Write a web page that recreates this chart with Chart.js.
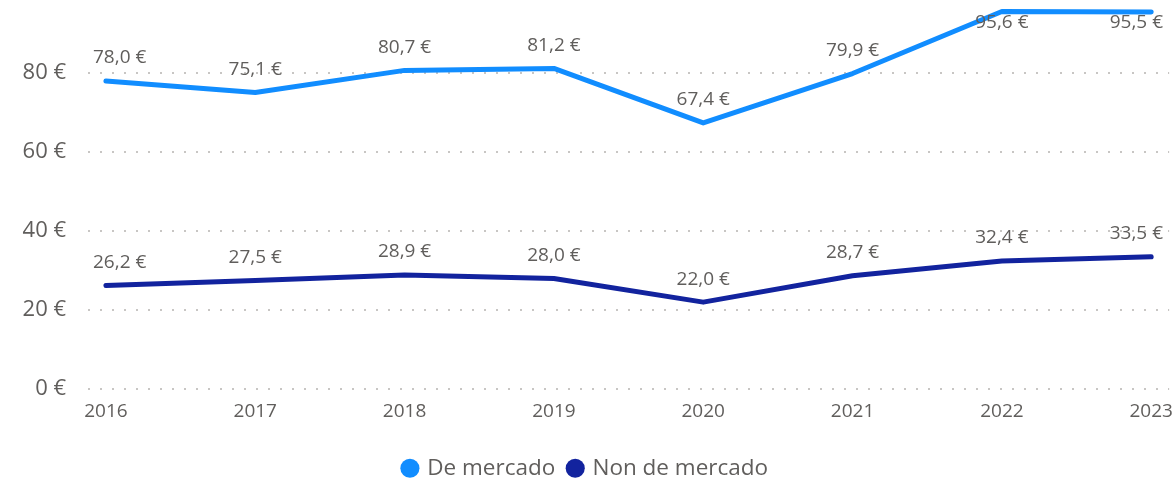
<!DOCTYPE html>
<html>
<head>
<meta charset="utf-8">
<script src="https://cdn.jsdelivr.net/npm/chart.js@4"></script>
<style>
  html, body { margin: 0; padding: 0; background: #fff; }
  #wrap { width: 1176px; height: 480px; }
</style>
</head>
<body>
<div id="wrap"><canvas id="grafico"></canvas></div>
<script>
const anos = [2016, 2017, 2018, 2019, 2020, 2021, 2022, 2023];
const deMercado = [78.0, 75.1, 80.7, 81.2, 67.4, 79.9, 95.6, 95.5];
const nonDeMercado = [26.2, 27.5, 28.9, 28.0, 22.0, 28.7, 32.4, 33.5];
const ticksY = [0, 20, 40, 60, 80];

const corTexto = "#605E5C";
const fonte = "'Open Sans', 'Noto Sans', sans-serif";

const euro = (v, dec) => v.toFixed(dec).replace(".", ",") + " €";

const pontos = (valores) => anos.map((a, i) => ({ x: a, y: valores[i] }));

// etiquetas de datos enriba de cada punto
const etiquetas = {
  id: "etiquetas",
  afterDatasetsDraw(chart) {
    const ctx = chart.ctx;
    const area = chart.chartArea;
    ctx.save();
    ctx.font = "19px " + fonte;
    ctx.fillStyle = corTexto;
    ctx.textBaseline = "middle";
    ctx.textAlign = "center";
    chart.data.datasets.forEach((ds, di) => {
      const meta = chart.getDatasetMeta(di);
      meta.data.forEach((p, i) => {
        const txt = euro(ds.data[i].y, 1);
        const w = ctx.measureText(txt).width;
        let x = p.x;
        if (x - w / 2 < area.left + 5) x = area.left + 5 + w / 2;
        if (x + w / 2 > chart.width - 13) x = chart.width - 13 - w / 2;
        let y = p.y - 23;
        if (y < 14) y = p.y + 11;
        ctx.fillText(txt, x, y);
      });
    });
    ctx.restore();
  },
};

new Chart(document.getElementById("grafico"), {
  type: "line",
  data: {
    datasets: [
      {
        label: "De mercado",
        data: pontos(deMercado),
        borderColor: "#118DFF",
        backgroundColor: "#118DFF",
        borderWidth: 5,
        borderCapStyle: "round",
        borderJoinStyle: "round",
        pointRadius: 0,
        tension: 0,
      },
      {
        label: "Non de mercado",
        data: pontos(nonDeMercado),
        borderColor: "#12239E",
        backgroundColor: "#12239E",
        borderWidth: 5,
        borderCapStyle: "round",
        borderJoinStyle: "round",
        pointRadius: 0,
        tension: 0,
      },
    ],
  },
  plugins: [etiquetas],
  options: {
    responsive: true,
    maintainAspectRatio: false,
    animation: false,
    layout: { padding: { top: 0, right: 4, left: 0, bottom: 0 } },
    plugins: {
      tooltip: { enabled: false },
      legend: {
        position: "bottom",
        maxHeight: 37,
        labels: {
          usePointStyle: true,
          pointStyle: "circle",
          boxWidth: 12,
          boxHeight: 13.5,
          padding: 14,
          color: corTexto,
          font: { family: fonte, size: 22.5 },
          generateLabels: (chart) =>
            Chart.defaults.plugins.legend.labels
              .generateLabels(chart)
              .map((l) => ({ ...l, lineWidth: 0 })),
        },
      },
    },
    scales: {
      x: {
        type: "linear",
        min: anos[0] - 0.12,
        max: anos[anos.length - 1] + 0.12,
        afterFit: (s) => { s.height = 54; },
        grid: { display: false },
        border: { display: false },
        ticks: {
          stepSize: 1,
          includeBounds: false,
          padding: 3,
          color: corTexto,
          font: { family: fonte, size: 19 },
          callback: (v) => String(v),
        },
      },
      y: {
        min: 0,
        max: 96.3,
        afterBuildTicks: (s) => { s.ticks = ticksY.map((v) => ({ value: v })); },
        afterFit: (s) => { s.width = 88; },
        grid: {
          color: "#C8C6C4",
          lineWidth: 2,
          drawTicks: true,
          tickLength: 22,
          tickColor: "rgba(0,0,0,0)",
        },
        border: { display: false, dash: [2, 10] },
        ticks: {
          padding: 0,
          color: corTexto,
          font: { family: fonte, size: 22, lineHeight: 0.8 },
          callback: (v) => euro(v, 0),
        },
      },
    },
  },
});
</script>
</body>
</html>
